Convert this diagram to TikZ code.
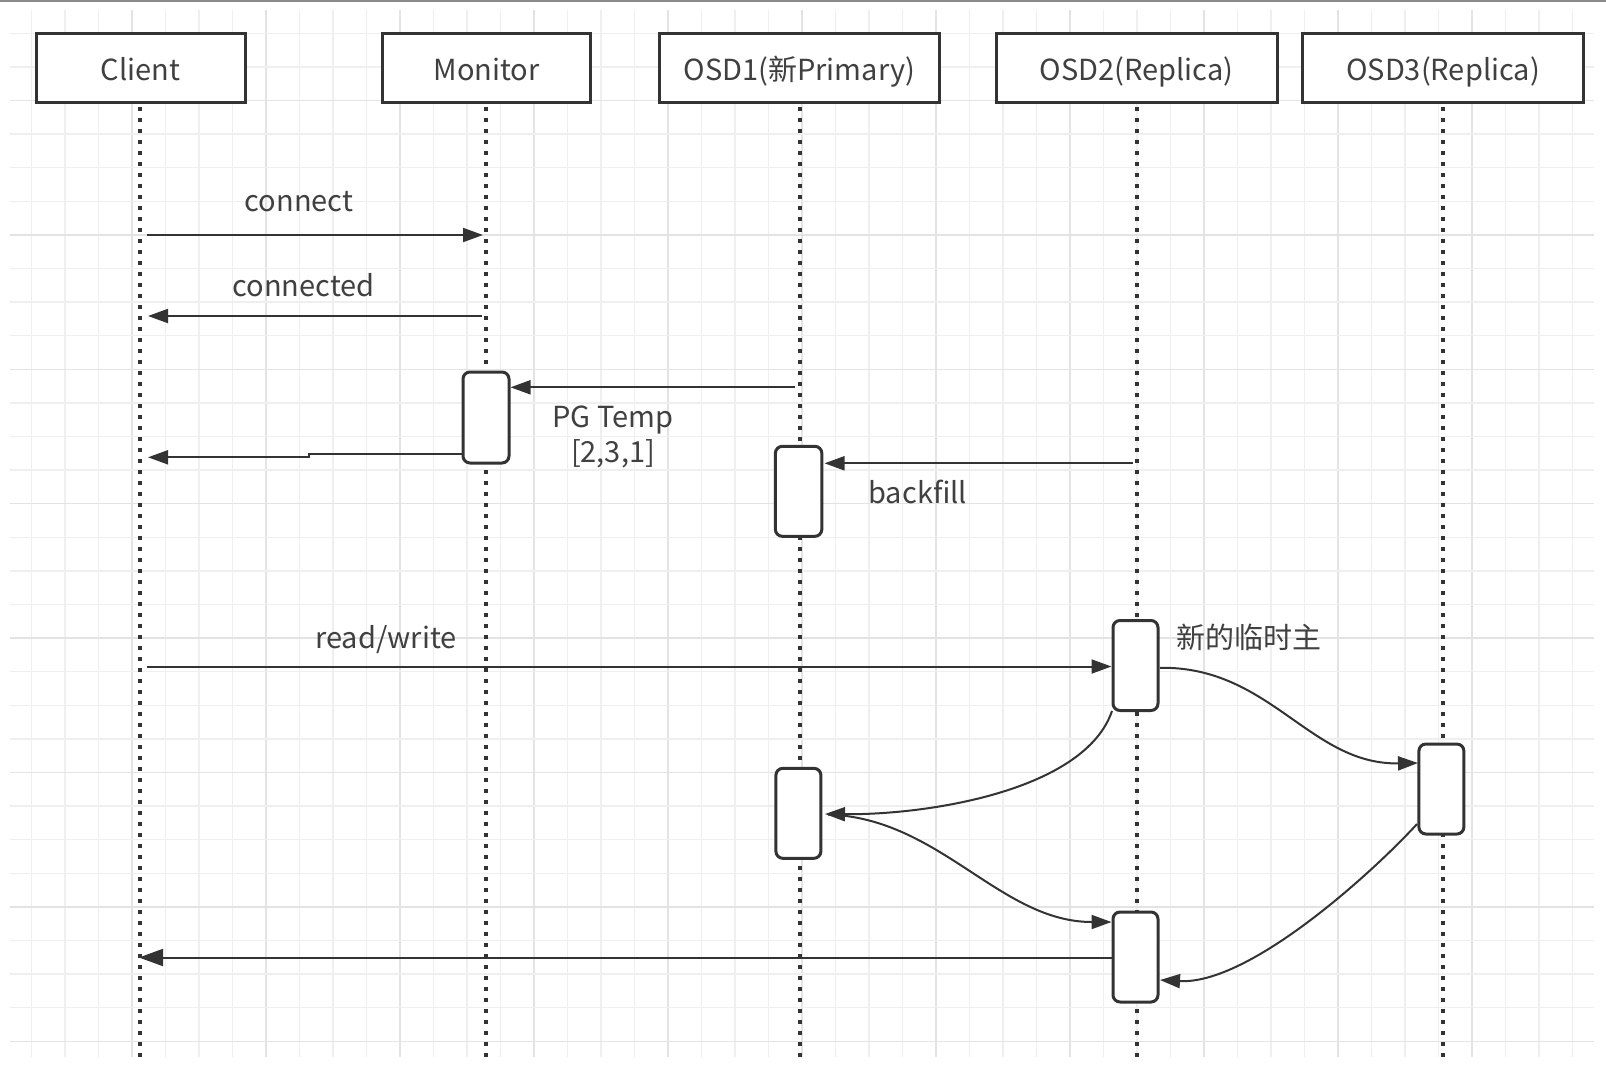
\documentclass[tikz,border=0pt]{standalone}
\usepackage{fontspec}
\setmainfont{Noto Sans CJK SC}
\usetikzlibrary{arrows.meta}
\definecolor{ink}{HTML}{333333}
\definecolor{txt}{HTML}{404040}
\definecolor{gridminor}{HTML}{EFEFEF}
\definecolor{gridmajor}{HTML}{E3E3E3}
\definecolor{topline}{HTML}{8A8A8A}
\begin{document}
\begin{tikzpicture}[x=1pt,y=-1pt,
  head/.style={draw=ink, line width=3pt, fill=white, minimum height=69pt, inner sep=0pt,
               text height=26pt, text depth=2pt,
               font=\fontsize{29}{34}\selectfont, text=txt},
  actbox/.style={draw=ink, line width=3pt, fill=white, rounded corners=7pt,
                 minimum width=45pt, minimum height=90pt, inner sep=0pt},
  life/.style={draw=ink, line width=4pt, line cap=butt, dash pattern=on 4pt off 7pt},
  msg/.style={draw=ink, line width=2pt, -{Triangle[length=20pt,width=14pt]}},
  bigmsg/.style={draw=ink, line width=2pt, -{Triangle[length=24pt,width=17pt]}},
  lbl/.style={font=\fontsize{29}{35}\selectfont, text=txt, inner sep=0pt},
  gminor/.style={draw=gridminor, line width=1.5pt},
  gmajor/.style={draw=gridmajor, line width=1.5pt},
]
\useasboundingbox (0,0) rectangle (1606,1080);
\fill[white] (0,0) rectangle (1606,1080);
\draw[topline, line width=2.5pt] (0,1) -- (1606,1) ;

% grid
\foreach \k in {0,...,46} {
  \pgfmathtruncatemacro{\m}{mod(\k,4)}
  \ifnum\m=3 \def\gs{gmajor}\else\def\gs{gminor}\fi
  \draw[style=\gs] ({31.6+33.5*\k},10) -- ({31.6+33.5*\k},1057);
}
\foreach \k in {0,...,30} {
  \pgfmathtruncatemacro{\m}{mod(\k,4)}
  \ifnum\m=2 \def\gs{gmajor}\else\def\gs{gminor}\fi
  \draw[style=\gs] (10,{33.3+33.6*\k}) -- (1594,{33.3+33.6*\k});
}

% headers
\node[head, minimum width=209pt] (client) at (140.5,68) {Client};
\node[head, minimum width=208pt] (monitor) at (486.7,68) {Monitor};
\node[head, minimum width=280.5pt] (osd1) at (799.3,68) {OSD1(新Primary)};
\node[head, minimum width=280.6pt] (osd2) at (1136.7,68) {OSD2(Replica)};
\node[head, minimum width=281.7pt] (osd3) at (1443,68) {OSD3(Replica)};

% lifeline ends
\coordinate (clientend) at (140.3,1057);
\coordinate (monitorend) at (486.3,1057);
\coordinate (osd1end) at (800,1057);
\coordinate (osd2end) at (1137,1057);
\coordinate (osd3end) at (1442.7,1057);
\draw[life] ([yshift=-3pt]client.south -| clientend) -- (clientend);
\draw[life] ([yshift=-3pt]monitor.south -| monitorend) -- (monitorend);
\draw[life] ([yshift=-3pt]osd1.south -| osd1end) -- (osd1end);
\draw[life] ([yshift=-3pt]osd2.south -| osd2end) -- (osd2end);
\draw[life] ([yshift=-3pt]osd3.south -| osd3end) -- (osd3end);

% activations
\node[actbox, minimum width=46pt, minimum height=91pt] (mact) at (486,417.5) {};
\node[actbox, minimum width=46.5pt] (o1a) at (798.6,491.3) {};
\node[actbox] (o2a) at (1135.5,665.5) {};
\node[actbox] (o3a) at (1441.4,789) {};
\node[actbox] (o1b) at (798.4,813.3) {};
\node[actbox] (o2b) at (1135.5,957) {};

% message endpoints
\coordinate (c1s) at (147,235);
\coordinate (c1e) at (483,235);
\coordinate (c2s) at (482,316);
\coordinate (c2e) at (148,316);
\coordinate (pgs) at (795,387.3);
\coordinate (pge) at (510.5,387.3);
\coordinate (mrs) at (461.5,454);
\coordinate (mr1) at (308.7,454);
\coordinate (mr2) at (308.7,457.3);
\coordinate (mre) at (148,457.3);
\coordinate (bfs) at (1133,463.3);
\coordinate (bfe) at (824.5,463.3);
\coordinate (rws) at (147,666.5);
\coordinate (rwe) at (1111.5,666.5);
\coordinate (q1s) at (1160,667.8);
\coordinate (q1e) at (1418,763);
\coordinate (q2s) at (1112,711);
\coordinate (q2e) at (825,814);
\coordinate (q3s) at (828,814.5);
\coordinate (q3e) at (1111.5,922);
\coordinate (q4s) at (1417,824);
\coordinate (q4e) at (1160,980);
\coordinate (rts) at (1111.5,957.5);
\coordinate (rte) at (139,957.5);

% messages
\draw[msg] (c1s) -- (c1e);
\draw[msg] (c2s) -- (c2e);
\draw[msg] (pgs) -- (pge);
\draw[msg] (mrs) -- (mr1) -- (mr2) -- (mre);
\draw[msg] (bfs) -- (bfe);
\draw[msg] (rws) -- (rwe);
\draw[msg] (q1s) .. controls (1270,666) and (1310,765) .. (q1e);
\draw[msg] (q2s) .. controls (1085,790) and (930,815) .. (q2e);
\draw[msg] (q3s) .. controls (940,818) and (1000,922) .. (q3e);
\draw[msg] (q4s) .. controls (1375,870) and (1250,985) .. (q4e);
\draw[bigmsg] (rts) -- (rte);

% labels
\node[lbl, anchor=base] (lconnect) at (299,211.7) {connect};
\node[lbl, anchor=base] (lconnected) at (303.6,296) {connected};
\node[lbl, align=center, anchor=center] (lpg) at (613,436.5) {PG Temp\\{[2,3,1]}};
\node[lbl, anchor=base] (lbf) at (917.7,503.3) {backfill};
\node[lbl, anchor=base] (lrw) at (386,648) {read/write};
\node[lbl, anchor=center] (lnew) at (1249,637) {新的临时主};
\end{tikzpicture}
\end{document}
